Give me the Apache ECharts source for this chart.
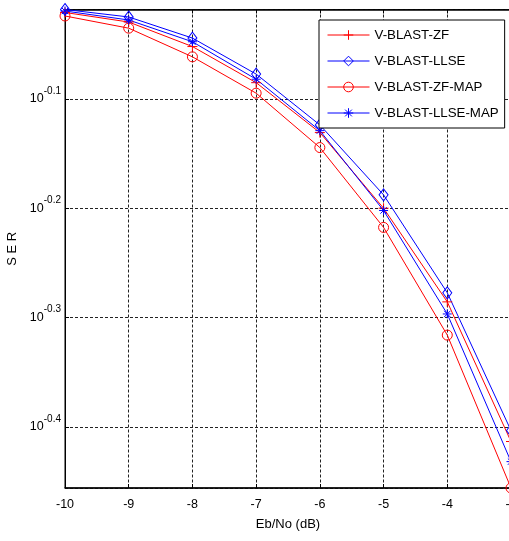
<!DOCTYPE html>
<html>
<head>
<meta charset="utf-8">
<style>
  html, body { margin: 0; padding: 0; background: #fff; }
  #chart { width: 509px; height: 541px; }
</style>
<script src="https://cdn.jsdelivr.net/npm/echarts@6/dist/echarts.min.js"></script>
</head>
<body>
<div id="chart"></div>
<script>
// Eb/No in dB
const ebNo = [-10, -9, -8, -7, -6, -5, -4, -3];

// symbol error rate per detector
const serZF      = [0.953, 0.934, 0.887, 0.822, 0.740, 0.631, 0.518, 0.386];
const serLLSE    = [0.959, 0.944, 0.903, 0.837, 0.752, 0.649, 0.528, 0.395];
const serZFMAP   = [0.946, 0.922, 0.868, 0.804, 0.717, 0.606, 0.483, 0.350];
const serLLSEMAP = [0.956, 0.938, 0.896, 0.828, 0.743, 0.628, 0.505, 0.370];

const seriesNames = ['V-BLAST-ZF', 'V-BLAST-LLSE', 'V-BLAST-ZF-MAP', 'V-BLAST-LLSE-MAP'];

const FONT = "'Liberation Sans', Arial, sans-serif";
const RED = '#ff0000';
const BLUE = '#0000ff';

const PLUS = 'path://M5,0L5,10M0,5L10,5';
const STAR = 'path://M5,0L5,10M0,5L10,5M1.5,1.5L8.5,8.5M1.5,8.5L8.5,1.5';

// the y axis is a decade-exponent scale: points are placed at log10(SER)
function pairs(vals) {
  return ebNo.map((x, i) => [x, Math.log10(vals[i])]);
}

function makeSeries(name, vals, color, symbol, size) {
  return {
    name: name,
    type: 'line',
    data: pairs(vals),
    symbol: symbol,
    symbolSize: size,
    showSymbol: true,
    clip: false,
    lineStyle: { color: color, width: 1 },
    itemStyle: { color: 'rgba(0,0,0,0)', borderColor: color, borderWidth: 1 },
    emphasis: { disabled: true },
    z: 3
  };
}

const chart = echarts.init(document.getElementById('chart'), null, { renderer: 'canvas' });

const gridLine = { show: true, lineStyle: { color: '#222', width: 1, type: [3, 2] } };

chart.setOption({
  animation: false,
  backgroundColor: '#fff',
  grid: { left: 65, right: -2, top: 9.5, bottom: 53, containLabel: false,
          outerBoundsMode: 'none',
          show: true, borderColor: '#000', borderWidth: 1, backgroundColor: '#fff' },
  legend: {
    orient: 'vertical',
    left: 319,
    top: 20,
    padding: [7, 6, 7, 8],
    itemWidth: 42,
    itemHeight: 12,
    itemGap: 10,
    backgroundColor: '#fff',
    borderColor: '#000',
    borderWidth: 1,
    borderRadius: 0,
    lineStyle: { width: 1 },
    itemStyle: { borderWidth: 1 },
    textStyle: { fontFamily: FONT, fontSize: 13.3, lineHeight: 16, color: '#000' },
    data: seriesNames,
    selectedMode: false,
    z: 10
  },
  xAxis: [{
    type: 'value',
    min: -10, max: -3, interval: 1,
    position: 'bottom',
    name: 'Eb/No (dB)',
    nameLocation: 'middle',
    nameGap: 30,
    nameTextStyle: { fontFamily: FONT, fontSize: 13, color: '#000' },
    axisLine: { show: true, onZero: false, lineStyle: { color: '#000', width: 1.5 } },
    axisTick: { show: true, inside: true, length: 4, lineStyle: { color: '#000' } },
    axisLabel: { fontFamily: FONT, fontSize: 12.5, color: '#000', margin: 10 },
    splitLine: gridLine
  }, {
    type: 'value',
    min: -10, max: -3, interval: 1,
    position: 'top',
    axisLine: { show: true, onZero: false, lineStyle: { color: '#000', width: 1.5 } },
    axisTick: { show: true, inside: true, length: 4, lineStyle: { color: '#000' } },
    axisLabel: { show: false },
    splitLine: { show: false }
  }],
  yAxis: {
    type: 'value',
    min: 'dataMin',
    max: 'dataMax',
    name: 'S E R',
    nameLocation: 'middle',
    nameGap: 33,
    nameTextStyle: { fontFamily: FONT, fontSize: 13, color: '#000' },
    axisLine: { show: true, onZero: false, lineStyle: { color: '#000', width: 1 } },
    axisTick: { show: true, inside: true, length: 4, lineStyle: { color: '#000' } },
    axisLabel: {
      showMinLabel: false,
      showMaxLabel: false,
      margin: 4,
      formatter: function (v) {
        return '{b|10}{s|' + (Math.round(v * 10) / 10).toFixed(1) + '}';
      },
      rich: {
        b: { fontFamily: FONT, fontSize: 12.5, lineHeight: 26, color: '#000' },
        s: { fontFamily: FONT, fontSize: 10, lineHeight: 10, verticalAlign: 'top', color: '#000' }
      }
    },
    splitLine: gridLine
  },
  series: [
    makeSeries(seriesNames[0], serZF, RED, PLUS, 10),
    makeSeries(seriesNames[1], serLLSE, BLUE, 'diamond', [9, 12]),
    makeSeries(seriesNames[2], serZFMAP, RED, 'circle', 10),
    makeSeries(seriesNames[3], serLLSEMAP, BLUE, STAR, 9)
  ]
});
</script>
</body>
</html>
